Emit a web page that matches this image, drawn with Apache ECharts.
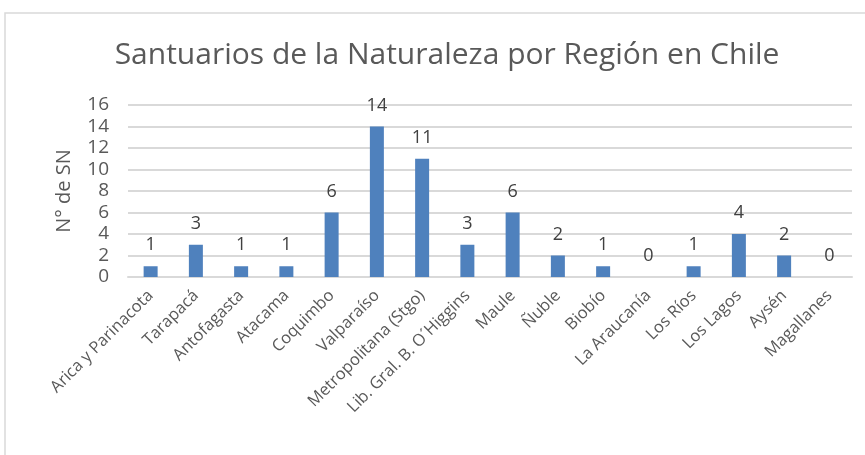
<!DOCTYPE html>
<html><head><meta charset="utf-8">
<script src="https://cdn.jsdelivr.net/npm/echarts@6/dist/echarts.min.js"></script>
<style>html,body{margin:0;padding:0;background:#fff}#c{width:865px;height:455px}</style>
</head><body><div id="c"></div>
<script>
const categories = ["Arica y Parinacota","Tarapacá","Antofagasta","Atacama","Coquimbo","Valparaíso","Metropolitana (Stgo)","Lib. Gral. B. O´Higgins","Maule","Ñuble","Biobío","La Araucanía","Los Ríos","Los Lagos","Aysén","Magallanes"];
const values = [1,3,1,1,6,14,11,3,6,2,1,0,1,4,2,0];
const yTicks = [0,2,4,6,8,10,12,14,16];
const titleText = "Santuarios de la Naturaleza por Región en Chile";
const yName = "N° de SN";

const chart = echarts.init(document.getElementById('c'));
const font = "'Open Sans', 'Noto Sans', sans-serif";
chart.setOption({
  animation: false,
  graphic: [{type:'rect', shape:{x:5,y:13,width:900,height:500}, style:{fill:'none', stroke:'#d9d9d9', lineWidth:1.5}, silent:true}],
  title: {text: titleText, left: 442, textAlign:'center', top: 35, textStyle:{fontFamily:font, fontSize:30, fontWeight:'normal', color:'#595959'}},
  grid: {left:128, right:13, top:105, bottom:178},
  xAxis: {type:'category', data: categories,
    axisLine:{lineStyle:{color:'#d9d9d9', width:2}}, axisTick:{show:false},
    axisLabel:{rotate:45, interval:0, fontFamily:font, fontSize:16.5, color:'#595959', margin:16}},
  yAxis: {type:'value', min:yTicks[0], max:yTicks[yTicks.length-1], interval:2,
    name: yName, nameLocation:'middle', nameGap:54, nameRotate:90,
    nameTextStyle:{fontFamily:font, fontSize:20, color:'#595959'},
    axisLine:{show:false}, axisTick:{show:false},
    axisLabel:{fontFamily:font, fontSize:19, color:'#595959', margin:19},
    splitLine:{lineStyle:{color:'#d9d9d9', width:2}}},
  series: [{type:'bar', data: values, barWidth:14, itemStyle:{color:'#4f81bd'},
    label:{show:true, position:'top', distance:12, fontFamily:font, fontSize:18, color:'#404040'}}]
});
</script></body></html>
